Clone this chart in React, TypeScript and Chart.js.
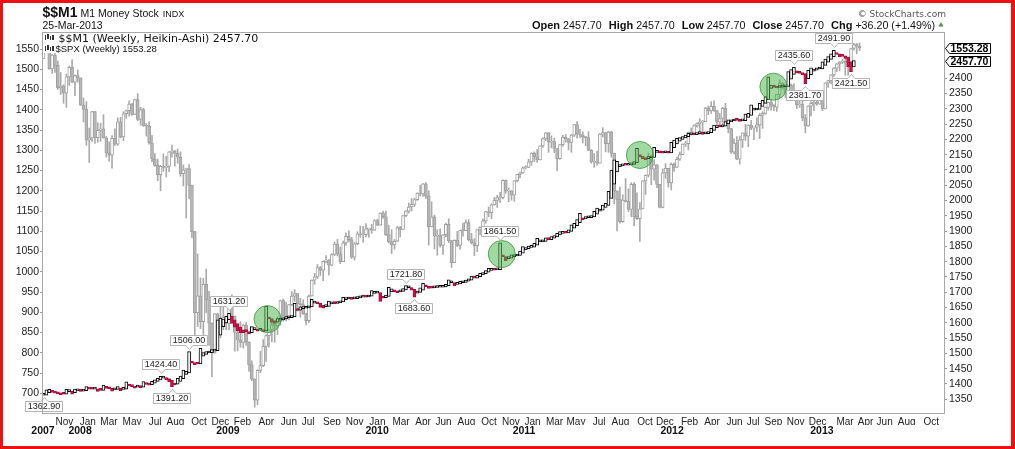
import React, { useEffect, useRef } from 'react';
import { Chart, registerables } from 'chart.js';

Chart.register(...registerables);

// ---------- DATA ----------
// $SPX weekly (week index 0 = week of 1-Oct-2007)
const spxFirstOpen = 1526.8;
const spxClose = [
  1557.6,1561.8,1500.6,1535.3,1509.7,1453.7,1458.7,1440.7,1481.1,1504.7,
  1467.9,1484.5,1478.5,1411.6,1401.0,1325.2,1330.6,1395.4,1331.3,1349.0,
  1353.1,1330.6,1293.4,1288.1,1329.5,1315.2,1370.4,1332.8,1390.3,1397.8,
  1413.9,1388.3,1425.4,1375.9,1400.4,1360.7,1360.0,1317.9,1278.4,1262.9,
  1239.5,1260.7,1257.8,1260.3,1296.3,1298.2,1292.2,1282.8,1242.3,1251.7,
  1255.1,1213.3,1099.2,899.2,940.6,876.8,968.8,931.0,873.3,800.0,
  896.2,876.1,879.7,887.9,872.8,931.8,890.4,850.1,832.0,825.9,
  868.6,826.8,770.1,735.1,683.4,756.6,768.5,815.9,842.5,856.6,
  869.6,866.2,877.5,929.2,882.9,887.0,919.1,940.1,946.2,921.2,
  918.9,896.4,879.1,940.4,979.3,987.5,1010.5,1004.1,1026.1,1028.9,
  1016.4,1042.7,1068.3,1044.4,1025.2,1071.5,1087.7,1079.6,1036.2,1069.3,
  1093.5,1091.4,1091.5,1106.0,1106.4,1102.5,1126.5,1115.1,1145.0,1136.0,
  1091.8,1073.9,1066.2,1075.5,1109.2,1104.5,1138.7,1150.0,1159.9,1166.6,
  1178.1,1194.4,1192.1,1217.3,1186.7,1110.9,1135.7,1087.7,1089.4,1064.9,
  1091.6,1117.5,1076.8,1022.6,1078.0,1064.9,1102.7,1101.6,1121.6,1079.3,
  1071.7,1064.6,1104.5,1109.6,1125.6,1148.7,1146.2,1165.2,1176.2,1183.1,
  1183.3,1225.9,1199.2,1199.7,1189.4,1224.7,1240.4,1243.9,1256.8,1257.6,
  1271.5,1293.2,1283.4,1276.3,1310.9,1329.2,1343.0,1319.9,1321.2,1304.3,
  1279.2,1313.8,1332.4,1328.2,1319.7,1337.4,1363.6,1340.2,1337.8,1333.3,
  1331.1,1300.2,1271.0,1271.5,1268.5,1339.7,1344.0,1316.1,1345.0,1292.3,
  1199.4,1178.8,1123.5,1176.8,1174.0,1154.2,1216.0,1136.4,1131.4,1155.5,
  1224.6,1238.3,1285.1,1253.2,1263.9,1215.7,1158.7,1244.3,1255.2,1219.7,
  1265.3,1257.6,1277.8,1289.1,1315.4,1316.3,1344.9,1342.6,1361.2,1365.7,
  1369.6,1370.9,1404.2,1397.1,1408.5,1398.1,1370.3,1378.5,1403.4,1369.1,
  1353.4,1295.2,1317.8,1278.0,1325.7,1342.8,1335.0,1362.2,1354.7,1356.8,
  1362.7,1386.0,1391.0,1405.9,1418.2,1411.1,1406.6,1437.9,1465.8,1460.2,
  1440.7,1460.9,1428.6,1433.2,1411.9,1414.2,1379.9,1359.9,1409.2,1416.2,
  1418.1,1413.6,1430.2,1402.4,1466.5,1472.1,1486.0,1503.0,1513.2,1517.9,
  1519.8,1515.6,1518.2,1551.2,1560.7,1556.9,1553.28
];
const spxHigh = [
  1561,1576,1564,1536,1552,1520,1492,1462,1488,1508,
  1523,1486,1498,1479,1429,1420,1355,1396,1396,1368,
  1367,1388,1334,1321,1336,1353,1380,1381,1395,1399,
  1422,1416,1426,1440,1406,1404,1366,1370,1337,1292,
  1278,1263,1291,1285,1297,1313,1300,1303,1296,1264,
  1256,1265,1214,1100,1044,985,984,1007,952,874,
  897,898,918,918,891,934,943,891,868,877,
  871,875,827,780,736,758,804,833,845,857,
  875,871,888,930,933,925,920,951,956,947,
  935,931,898,943,980,996,1018,1013,1027,1040,
  1030,1045,1074,1080,1061,1076,1096,1101,1085,1072,
  1099,1113,1112,1119,1107,1117,1129,1130,1146,1150,
  1150,1115,1104,1080,1112,1112,1139,1151,1170,1181,
  1182,1195,1214,1218,1220,1200,1173,1140,1104,1106,
  1092,1120,1131,1077,1079,1100,1103,1120,1128,1129,
  1095,1082,1105,1111,1131,1149,1160,1168,1184,1189,
  1196,1227,1227,1207,1200,1225,1241,1246,1259,1262,
  1278,1294,1296,1302,1311,1331,1344,1344,1336,1330,
  1303,1314,1337,1339,1329,1339,1364,1371,1352,1346,
  1334,1346,1302,1292,1298,1341,1356,1344,1347,1347,
  1293,1200,1209,1190,1230,1205,1220,1220,1195,1171,
  1225,1239,1293,1285,1277,1265,1216,1254,1267,1255,
  1269,1269,1284,1296,1316,1322,1345,1355,1363,1368,
  1378,1374,1406,1409,1420,1422,1398,1391,1406,1416,
  1370,1354,1328,1334,1335,1343,1364,1363,1374,1358,
  1380,1391,1395,1407,1419,1426,1413,1438,1474,1467,
  1460,1470,1464,1464,1434,1434,1434,1388,1410,1420,
  1424,1439,1448,1431,1467,1473,1487,1504,1514,1519,
  1525,1531,1525,1552,1564,1564,1565
];
const spxLow = [
  1527,1546,1500,1490,1492,1450,1438,1416,1406,1460,
  1467,1435,1468,1411,1370,1312,1270,1322,1317,1320,
  1322,1330,1283,1273,1256,1312,1312,1331,1324,1379,
  1384,1386,1389,1373,1362,1359,1335,1315,1272,1260,
  1225,1200,1248,1234,1247,1283,1261,1268,1236,1212,
  1133,1180,1084,839,865,860,845,899,818,741,
  799,815,837,857,857,857,886,804,805,814,
  812,818,754,731,666,672,751,766,779,814,
  827,826,845,868,878,879,881,916,927,903,
  888,895,869,875,940,969,983,991,978,1022,
  992,1015,1040,1039,1020,1025,1066,1074,1033,1029,
  1067,1085,1073,1086,1085,1095,1102,1114,1116,1132,
  1090,1071,1045,1056,1075,1086,1105,1136,1145,1150,
  1161,1176,1187,1186,1181,1066,1113,1056,1041,1061,
  1043,1087,1072,1011,1028,1062,1056,1088,1108,1076,
  1069,1040,1050,1091,1108,1120,1136,1131,1164,1159,
  1171,1180,1194,1173,1177,1174,1222,1232,1243,1254,
  1257,1263,1272,1270,1276,1307,1324,1295,1306,1294,
  1249,1278,1310,1320,1301,1295,1334,1330,1331,1318,
  1311,1299,1268,1258,1263,1268,1333,1296,1295,1283,
  1168,1101,1120,1122,1172,1149,1136,1114,1129,1075,
  1157,1191,1234,1215,1226,1208,1158,1158,1231,1209,
  1202,1248,1258,1275,1289,1309,1301,1338,1341,1357,
  1340,1344,1371,1388,1391,1396,1357,1358,1358,1367,
  1343,1292,1291,1277,1266,1307,1324,1309,1351,1326,
  1346,1329,1354,1389,1399,1399,1398,1396,1429,1451,
  1430,1439,1425,1428,1403,1406,1373,1343,1359,1385,
  1398,1411,1416,1398,1402,1455,1464,1482,1494,1496,
  1514,1485,1485,1515,1547,1538,1546
];

// $$M1 weekly values (Heikin-Ashi candles are built from these)
const m1Close = [
  1362.9,1380.5,1382.0,1372.4,1370.0,1367.8,1364.5,1366.2,1382.3,1378.0,
  1366.0,1383.4,1378.1,1375.5,1379.0,1391.2,1383.0,1382.4,1384.0,1375.2,
  1378.6,1396.0,1385.3,1384.0,1376.1,1383.0,1391.0,1378.2,1383.5,1407.0,
  1393.2,1391.0,1386.3,1390.5,1388.0,1407.4,1398.0,1396.2,1408.0,1413.5,
  1418.0,1424.4,1422.0,1414.0,1406.5,1391.2,1396.3,1418.0,1425.2,1445.0,
  1441.0,1506.0,1468.0,1462.5,1465.0,1516.3,1502.4,1505.8,1503.0,1512.6,
  1510.0,1609.5,1615.3,1612.0,1620.8,1631.2,1598.0,1585.4,1574.2,1568.0,
  1566.5,1571.0,1563.2,1587.4,1580.1,1572.6,1576.3,1571.0,1655.0,1612.5,
  1600.8,1597.5,1614.0,1611.2,1615.5,1620.3,1617.0,1622.4,1664.0,1640.2,
  1652.0,1648.5,1649.8,1655.1,1676.8,1668.0,1662.3,1650.4,1648.1,1653.6,
  1671.0,1664.5,1662.8,1667.3,1672.0,1683.2,1679.5,1681.0,1676.8,1680.2,
  1684.3,1686.0,1685.2,1684.0,1690.5,1705.1,1698.3,1701.0,1669.5,1680.2,
  1690.4,1716.0,1711.2,1701.5,1698.3,1704.6,1712.0,1721.8,1715.0,1706.5,
  1683.6,1702.0,1714.5,1729.3,1718.0,1712.6,1713.5,1716.2,1717.0,1716.5,
  1717.8,1726.0,1740.2,1731.5,1720.4,1728.0,1735.3,1733.0,1740.1,1743.5,
  1752.5,1746.0,1755.2,1762.0,1764.3,1770.5,1778.0,1776.2,1772.0,1774.5,
  1861.5,1816.0,1803.5,1812.4,1822.0,1820.5,1822.8,1835.0,1849.2,1846.0,
  1851.3,1848.5,1860.2,1876.0,1865.0,1867.5,1878.2,1872.0,1882.0,1885.5,
  1893.0,1898.2,1896.5,1893.1,1904.0,1920.3,1925.8,1938.0,1958.4,1937.0,
  1947.2,1945.0,1948.5,1965.0,1975.3,1972.0,1985.4,1991.0,2030.0,2100.0,
  2133.0,2128.5,2116.0,2118.2,2115.4,2117.8,2120.0,2127.3,2171.0,2143.5,
  2136.0,2133.2,2143.0,2141.5,2174.2,2160.0,2156.3,2155.0,2158.2,2154.8,
  2190.5,2198.0,2203.2,2206.0,2209.4,2214.0,2220.3,2218.0,2214.5,2222.0,
  2221.0,2216.5,2219.2,2226.0,2236.4,2247.3,2244.0,2240.5,2245.2,2258.0,
  2264.3,2263.0,2264.8,2262.1,2259.0,2262.5,2283.0,2285.4,2313.0,2296.5,
  2300.2,2318.0,2327.5,2340.1,2405.0,2378.0,2370.5,2368.2,2372.0,2373.5,
  2374.0,2422.0,2428.5,2435.6,2418.0,2416.2,2412.0,2381.7,2426.0,2434.5,
  2430.5,2434.0,2431.2,2454.0,2462.5,2471.0,2480.0,2491.9,2478.0,2470.5,
  2471.5,2465.0,2438.0,2421.5,2457.7
];

// annotated M1 swing points (week index) and whether the tag hangs below
const noteIdx = [0, 41, 45, 51, 65, 127, 130, 160, 263, 267, 277, 283];
const noteBelow = [true, false, true, false, false, false, true, false, false, true, false, true];

// hand-drawn green circles (week index, M1 value)
const circleIdx = [78.5, 160.6, 209.0, 255.8];
const circleVal = [1612, 1825, 2149, 2372.5];

// x-axis tick labels (positions in week index)
const monthLabels = ['Nov','Jan','Mar','May','Jul','Aug','Oct','Dec','Feb','Apr','Jun','Jul','Sep','Nov','Jan','Mar','Apr','Jun','Aug','Oct',
  'Nov','Jan','Mar','May','Jul','Aug','Oct','Dec','Feb','Apr','Jun','Jul','Sep','Nov','Dec','Mar','Apr','Jun','Aug','Oct'];
const monthTickPos = [7.3,15.5,22.9,31.0,39.1,46.2,54.5,62.0,69.7,78.1,86.0,92.7,101.1,109.0,117.0,125.3,133.0,140.2,148.2,156.1,
  163.8,171.4,179.1,186.6,194.7,202.2,210.8,217.8,226.4,234.3,242.2,248.7,255.8,263.6,271.3,280.9,288.1,294.8,302.5,311.1];
const yearLabels = ['2007','2008','2009','2010','2011','2012','2013'];
const yearTickPos = [-0.2, 12.8, 64.6, 116.9, 168.4, 220.3, 272.8];

const spxTicks = [700,750,800,850,900,950,1000,1050,1100,1150,1200,1250,1300,1350,1400,1450,1500,1550];
const m1Ticks = [1350,1400,1450,1500,1550,1600,1650,1700,1750,1800,1850,1900,1950,2000,2050,2100,2150,2200,2250,2300,2350,2400];

// ---------- STYLE ----------
const W = 1015;
const H = 449;
const SANS = '"Liberation Sans", Arial, sans-serif';
const DEJAVU = '"DejaVu Sans", Verdana, sans-serif';
const X_MIN = -0.2;
const X_MAX = 315.6;

function buildSpx() {
  const wick: any[] = [];
  const body: any[] = [];
  const fill: string[] = [];
  for (let i = 0; i < spxClose.length; i++) {
    const o = i === 0 ? spxFirstOpen : spxClose[i - 1];
    const c = spxClose[i];
    const hi = Math.max(spxHigh[i], o, c);
    const lo = Math.min(spxLow[i], o, c);
    wick.push({ x: i, y: [lo, hi] });
    body.push({ x: i, y: [Math.min(o, c), Math.max(o, c)] });
    fill.push(c < o ? '#b8b8b8' : '#ffffff');
  }
  return { wick, body, fill };
}

function buildM1() {
  const body: any[] = [];
  const fill: string[] = [];
  const border: string[] = [];
  let prevO = m1Close[0];
  let prevC = m1Close[0];
  for (let i = 0; i < m1Close.length; i++) {
    const c = m1Close[i];
    const o = i === 0 ? c : (prevO + prevC) / 2;
    body.push({ x: i, y: [Math.min(o, c), Math.max(o, c)] });
    const down = c < o;
    fill.push(down ? '#c8144a' : '#ffffff');
    border.push(down ? '#a80c3a' : '#000000');
    prevO = o;
    prevC = c;
  }
  return { body, fill, border };
}

function drawNote(ctx: CanvasRenderingContext2D, text: string, px: number, py: number, below: boolean) {
  ctx.font = `9px ${SANS}`;
  const w = Math.round(ctx.measureText(text).width) + 4;
  const h = 10;
  const cx = Math.round(px);
  const left = cx - Math.round(w / 2) + 0.5;
  const right = left + w;
  let top: number, bottom: number, tip: number;
  if (below) {
    tip = Math.round(py) + 2.5;
    top = tip + 4;
    bottom = top + h;
  } else {
    tip = Math.round(py) - 2.5;
    bottom = tip - 4;
    top = bottom - h;
  }
  ctx.beginPath();
  if (below) {
    ctx.moveTo(left, top);
    ctx.lineTo(cx - 3, top);
    ctx.lineTo(cx + 0.5, tip);
    ctx.lineTo(cx + 4, top);
    ctx.lineTo(right, top);
    ctx.lineTo(right, bottom);
    ctx.lineTo(left, bottom);
  } else {
    ctx.moveTo(left, top);
    ctx.lineTo(right, top);
    ctx.lineTo(right, bottom);
    ctx.lineTo(cx + 4, bottom);
    ctx.lineTo(cx + 0.5, tip);
    ctx.lineTo(cx - 3, bottom);
    ctx.lineTo(left, bottom);
  }
  ctx.closePath();
  ctx.fillStyle = '#ffffff';
  ctx.fill();
  ctx.strokeStyle = '#b5b5b5';
  ctx.lineWidth = 1;
  ctx.stroke();
  ctx.fillStyle = '#222';
  ctx.textAlign = 'center';
  ctx.textBaseline = 'middle';
  ctx.fillText(text, (left + right) / 2, (top + bottom) / 2 + 0.5);
}

function drawPriceBox(ctx: CanvasRenderingContext2D, text: string, y: number) {
  ctx.font = `bold 10.5px ${SANS}`;
  const tw = ctx.measureText(text).width;
  const x0 = 945.5;
  const x1 = Math.round(x0 + tw + 7) + 0.5;
  const h = 10;
  const top = Math.round(y - h / 2) + 0.5;
  ctx.beginPath();
  ctx.moveTo(x0 + 4, top);
  ctx.lineTo(x1, top);
  ctx.lineTo(x1, top + h);
  ctx.lineTo(x0 + 4, top + h);
  ctx.lineTo(x0, top + h / 2);
  ctx.closePath();
  ctx.fillStyle = '#fff';
  ctx.fill();
  ctx.strokeStyle = '#000';
  ctx.lineWidth = 1;
  ctx.stroke();
  ctx.fillStyle = '#000';
  ctx.textAlign = 'left';
  ctx.textBaseline = 'middle';
  ctx.fillText(text, x0 + 5, top + h / 2 + 0.5);
}

function drawIcon(ctx: CanvasRenderingContext2D, x: number, y: number) {
  ctx.fillStyle = '#333';
  ctx.fillRect(x, y + 1, 1, 5);
  ctx.fillRect(x + 2, y, 2, 5);
  ctx.fillRect(x + 5, y + 2, 1, 4);
  ctx.fillRect(x + 7, y + 1, 2, 5);
}

const decorPlugin = {
  id: 'decor',
  beforeDraw(chart: any) {
    const ctx = chart.ctx as CanvasRenderingContext2D;
    ctx.save();
    ctx.fillStyle = '#ffffff';
    ctx.fillRect(0, 0, chart.width, chart.height);
    ctx.restore();
  },
  afterDraw(chart: any) {
    const ctx = chart.ctx as CanvasRenderingContext2D;
    const xs = chart.scales.x;
    const yl = chart.scales.y;
    const yr = chart.scales.y1;
    const ca = chart.chartArea;
    ctx.save();

    // green circles
    for (let i = 0; i < circleIdx.length; i++) {
      const cx = xs.getPixelForValue(circleIdx[i]);
      const cy = yr.getPixelForValue(circleVal[i]);
      ctx.beginPath();
      ctx.arc(cx, cy, 13.5, 0, Math.PI * 2);
      ctx.fillStyle = 'rgba(70,180,70,0.5)';
      ctx.fill();
      ctx.strokeStyle = 'rgba(60,150,60,0.8)';
      ctx.lineWidth = 1;
      ctx.stroke();
    }

    // value tags
    for (let i = 0; i < noteIdx.length; i++) {
      const idx = noteIdx[i];
      const v = m1Close[idx];
      drawNote(ctx, v.toFixed(2), xs.getPixelForValue(idx), yr.getPixelForValue(v), noteBelow[i]);
    }

    // in-chart legend
    const lastM1 = m1Close[m1Close.length - 1];
    const prevM1 = m1Close[m1Close.length - 2];
    const lastSpx = spxClose[spxClose.length - 1];
    ctx.fillStyle = '#ffffff';
    ctx.fillRect(ca.left, ca.top, 224, 21);
    drawIcon(ctx, 45, 34);
    drawIcon(ctx, 45, 45);
    ctx.fillStyle = '#111';
    ctx.textAlign = 'left';
    ctx.textBaseline = 'alphabetic';
    ctx.font = `11px ${DEJAVU}`;
    ctx.fillText(`$$M1 (Weekly, Heikin-Ashi) ${lastM1.toFixed(2)}`, 58.5, 42);
    ctx.font = `9.5px ${SANS}`;
    ctx.fillText(`$SPX (Weekly) ${lastSpx.toFixed(2)}`, 55.5, 51.5);

    // plot frame
    ctx.strokeStyle = '#a8a8a8';
    ctx.lineWidth = 1;
    ctx.strokeRect(ca.left - 0.5, ca.top + 0.5, ca.right - ca.left + 1, ca.bottom - ca.top - 1);

    // right side price boxes
    drawPriceBox(ctx, lastSpx.toFixed(2), yl.getPixelForValue(lastSpx));
    drawPriceBox(ctx, lastM1.toFixed(2), yr.getPixelForValue(lastM1));

    // header (title)
    ctx.fillStyle = '#111';
    ctx.textAlign = 'left';
    ctx.textBaseline = 'alphabetic';
    ctx.font = `bold 14px ${SANS}`;
    ctx.fillText('$$M1', 42.5, 17);
    let tx = 42.5 + ctx.measureText('$$M1').width + 3;
    ctx.font = `10.5px ${SANS}`;
    ctx.fillText('M1 Money Stock', tx, 17);
    tx += ctx.measureText('M1 Money Stock').width + 4;
    ctx.font = `9px ${SANS}`;
    ctx.fillText('INDX', tx, 17);
    ctx.font = `10.5px ${SANS}`;
    ctx.fillText('25-Mar-2013', 42.5, 28.5);

    // copyright
    ctx.fillStyle = '#555';
    ctx.font = `9px ${DEJAVU}`;
    ctx.textAlign = 'right';
    ctx.fillText('\u00A9 StockCharts.com', 946, 17);

    // OHLC stats line
    const val = lastM1.toFixed(2);
    const chg = lastM1 - prevM1;
    const pct = (chg / prevM1) * 100;
    const segs: [string, boolean, number][] = [
      ['Open', true, 3], [val, false, 7], ['High', true, 3], [val, false, 7],
      ['Low', true, 3], [val, false, 7], ['Close', true, 3], [val, false, 7],
      ['Chg', true, 3], [`+${chg.toFixed(2)} (+${pct.toFixed(2)}%)`, false, 0],
    ];
    const fontOf = (b: boolean) => (b ? `bold 11px ${SANS}` : `10.7px ${SANS}`);
    let total = 0;
    for (const [t, b, g] of segs) {
      ctx.font = fontOf(b);
      total += ctx.measureText(t).width + g;
    }
    let sx = 935 - total;
    ctx.textAlign = 'left';
    ctx.fillStyle = '#111';
    for (const [t, b, g] of segs) {
      ctx.font = fontOf(b);
      ctx.fillText(t, sx, 28.5);
      sx += ctx.measureText(t).width + g;
    }
    ctx.beginPath();
    ctx.moveTo(938.5, 26.5);
    ctx.lineTo(943.5, 26.5);
    ctx.lineTo(941, 22);
    ctx.closePath();
    ctx.fillStyle = '#4f8f4f';
    ctx.fill();

    // red outer frame
    ctx.fillStyle = '#ee1111';
    ctx.fillRect(0, 0, W, 3);
    ctx.fillRect(0, H - 3, W, 3);
    ctx.fillRect(0, 0, 3, H);
    ctx.fillRect(W - 4, 0, 4, H);

    ctx.restore();
  },
};

export default function App() {
  const ref = useRef<HTMLCanvasElement | null>(null);

  useEffect(() => {
    document.body.style.margin = '0';
    const canvas = ref.current;
    if (!canvas) return;
    const spx = buildSpx();
    const m1 = buildM1();

    const chart = new Chart(canvas, {
      type: 'bar',
      data: {
        datasets: [
          {
            label: '$$M1',
            data: m1.body,
            xAxisID: 'x',
            yAxisID: 'y1',
            backgroundColor: m1.fill,
            borderColor: m1.border,
            borderWidth: 1,
            borderSkipped: false,
            barThickness: 3,
            minBarLength: 2,
            grouped: false,
            order: 0,
          } as any,
          {
            label: '$SPX body',
            data: spx.body,
            xAxisID: 'x',
            yAxisID: 'y',
            backgroundColor: spx.fill,
            borderColor: '#a0a0a0',
            borderWidth: 1,
            borderSkipped: false,
            barThickness: 3,
            minBarLength: 1,
            grouped: false,
            order: 1,
          } as any,
          {
            label: '$SPX wick',
            data: spx.wick,
            xAxisID: 'x',
            yAxisID: 'y',
            backgroundColor: '#aaaaaa',
            borderWidth: 0,
            barThickness: 1,
            grouped: false,
            order: 2,
          } as any,
        ],
      },
      options: {
        animation: false,
        responsive: false,
        devicePixelRatio: 1,
        events: [],
        layout: { padding: { left: 0, right: 21, top: 32, bottom: 12 } },
        plugins: {
          legend: { display: false },
          tooltip: { enabled: false },
          title: { display: false },
        },
        scales: {
          x: {
            type: 'linear',
            position: 'bottom',
            min: X_MIN,
            max: X_MAX,
            offset: false,
            weight: 0,
            grid: { display: false, drawTicks: false },
            border: { display: false },
            afterBuildTicks: (s: any) => {
              s.ticks = monthTickPos.map((v) => ({ value: v }));
            },
            afterFit: (s: any) => {
              s.height = 11;
            },
            ticks: {
              autoSkip: false,
              maxRotation: 0,
              minRotation: 0,
              padding: 2,
              color: '#222',
              font: { family: SANS, size: 10 },
              callback: (_v: any, i: number) => monthLabels[i],
            },
          },
          x2: {
            type: 'linear',
            position: 'bottom',
            min: X_MIN,
            max: X_MAX,
            offset: false,
            weight: 1,
            grid: { display: false, drawTicks: false },
            border: { display: false },
            afterBuildTicks: (s: any) => {
              s.ticks = yearTickPos.map((v) => ({ value: v }));
            },
            afterFit: (s: any) => {
              s.height = 12;
            },
            ticks: {
              autoSkip: false,
              maxRotation: 0,
              minRotation: 0,
              padding: 0,
              color: '#111',
              font: { family: SANS, size: 10.5, weight: 'bold' },
              callback: (_v: any, i: number) => yearLabels[i],
            },
          },
          y: {
            type: 'linear',
            position: 'left',
            min: 649,
            max: 1592,
            grid: { display: true, drawOnChartArea: false, drawTicks: true, tickLength: 3, color: '#999' },
            border: { display: false },
            afterBuildTicks: (s: any) => {
              s.ticks = spxTicks.map((v) => ({ value: v }));
            },
            afterFit: (s: any) => {
              s.width = 43;
            },
            ticks: {
              padding: 1,
              color: '#222',
              font: { family: SANS, size: 10.5 },
              callback: (v: any) => String(v),
            },
          },
          y1: {
            type: 'linear',
            position: 'right',
            min: 1301.5,
            max: 2551.5,
            grid: { display: true, drawOnChartArea: false, drawTicks: true, tickLength: 3, color: '#999' },
            border: { display: false },
            afterBuildTicks: (s: any) => {
              s.ticks = m1Ticks.map((v) => ({ value: v }));
            },
            afterFit: (s: any) => {
              s.width = 50;
            },
            ticks: {
              padding: 2,
              color: '#222',
              font: { family: SANS, size: 10.5 },
              callback: (v: any) => String(v),
            },
          },
        },
      } as any,
      plugins: [decorPlugin],
    });

    return () => {
      chart.destroy();
    };
  }, []);

  return (
    <canvas
      ref={ref}
      width={W}
      height={H}
      style={{ display: 'block', width: W, height: H }}
    />
  );
}
